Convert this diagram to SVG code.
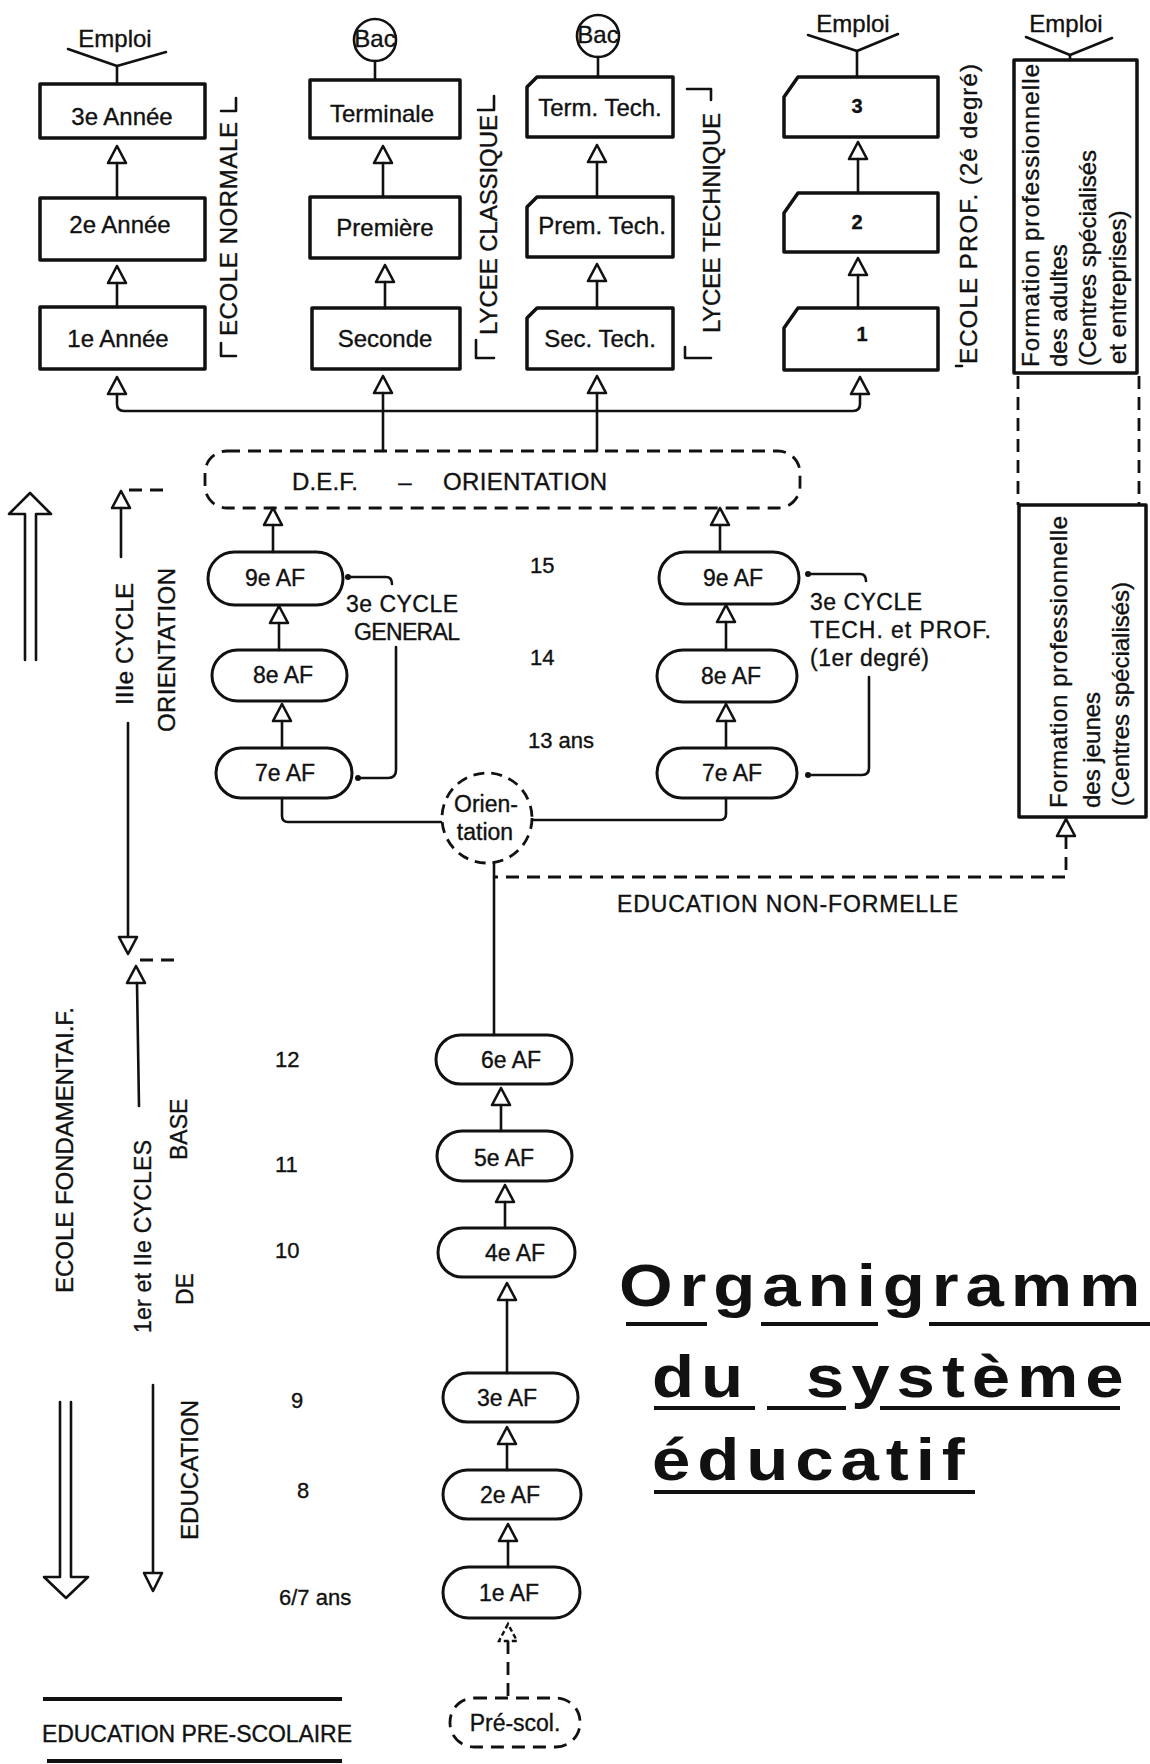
<svg xmlns="http://www.w3.org/2000/svg" xmlns:xlink="http://www.w3.org/1999/xlink" width="1150" height="1764" viewBox="0 0 1150 1764">
<style>
text{font-family:"Liberation Sans",Arial,sans-serif;fill:#111;stroke:#111;stroke-width:0.35px;}
.box{fill:none;stroke:#111;stroke-width:3.5;stroke-linejoin:round;}
.pill{fill:none;stroke:#111;stroke-width:3;}
.ln{fill:none;stroke:#111;stroke-width:2.6;stroke-linecap:round;stroke-linejoin:round;}
.dash{fill:none;stroke:#111;stroke-width:2.8;stroke-dasharray:13 8;}
.lbl{font-size:24px;text-anchor:middle;}
.af{font-size:23px;text-anchor:middle;}
.num{font-size:20px;font-weight:bold;text-anchor:middle;}
.rot{font-size:24px;}
.side{font-size:23px;}
.age{font-size:22px;}
.title{font-size:60px;font-weight:bold;stroke-width:0;letter-spacing:6px;}
.ul{stroke:#111;stroke-width:4;}
</style>
<defs>
<path id="tri" d="M0,0 L-9,17 L9,17 Z" fill="#fff" stroke="#111" stroke-width="2.6" stroke-linejoin="round"/>
<path id="trid" d="M0,0 L-9,17 L9,17 Z" fill="#fff" stroke="#111" stroke-width="2.4" stroke-dasharray="5 3"/>
</defs>
<rect width="1150" height="1764" fill="#fff"/>

<!-- ===== Top: Ecole normale ===== -->
<g id="emploi-1"><text class="lbl" x="115" y="47" font-size="23">Emploi</text></g>
<g id="annee-3"><rect class="box" x="40" y="84" width="165" height="54"/><text class="lbl" x="122" y="125">3e Année</text></g>
<g id="annee-2"><rect class="box" x="40" y="198" width="165" height="62"/><text class="lbl" x="120" y="233">2e Année</text></g>
<g id="annee-1"><rect class="box" x="40" y="307" width="165" height="62"/><text class="lbl" x="118" y="347">1e Année</text></g>
<g id="label-ecole-normale">
<text class="rot" font-size="22" transform="translate(237,336) rotate(-90)" textLength="214">ECOLE NORMALE</text>
<polyline class="ln" points="221,111 236,111 236,98"/>
<polyline class="ln" points="221,343 221,356 236,356"/>
</g>

<!-- ===== Lycée classique ===== -->
<g id="bac-1"><circle cx="375" cy="40" r="21" fill="none" stroke="#111" stroke-width="2.6"/><text class="lbl" x="375" y="47" font-size="18">Bac</text></g>
<g id="terminale"><rect class="box" x="310" y="80" width="150" height="58"/><text class="lbl" x="382" y="122">Terminale</text></g>
<g id="premiere"><rect class="box" x="310" y="197" width="150" height="61"/><text class="lbl" x="385" y="236">Première</text></g>
<g id="seconde"><rect class="box" x="312" y="308" width="148" height="61"/><text class="lbl" x="385" y="347">Seconde</text></g>
<g id="label-lycee-classique">
<text class="rot" font-size="23" transform="translate(497,335) rotate(-90)" textLength="220">LYCEE CLASSIQUE</text>
<polyline class="ln" points="478,110 494,110 494,96"/>
<polyline class="ln" points="476,340 476,358 494,358"/>
</g>

<!-- ===== Lycée technique ===== -->
<g id="bac-2"><circle cx="598" cy="36" r="21" fill="none" stroke="#111" stroke-width="2.6"/><text class="lbl" x="598" y="43" font-size="18">Bac</text></g>
<g id="term-tech"><path class="box" d="M537,77 H673 V137 H527 V87 Z"/><text class="lbl" x="600" y="116">Term. Tech.</text></g>
<g id="prem-tech"><path class="box" d="M537,197 H673 V257 H527 V207 Z"/><text class="lbl" x="602" y="234">Prem. Tech.</text></g>
<g id="sec-tech"><path class="box" d="M537,308 H673 V369 H527 V318 Z"/><text class="lbl" x="600" y="347">Sec. Tech.</text></g>
<g id="label-lycee-technique">
<text class="rot" font-size="23" transform="translate(720,333) rotate(-90)" textLength="220">LYCEE TECHNIQUE</text>
<polyline class="ln" points="687,89 711,89 711,100"/>
<polyline class="ln" points="685,347 685,358 711,358"/>
</g>

<!-- ===== Ecole prof ===== -->
<g id="emploi-2"><text class="lbl" x="853" y="32" font-size="23">Emploi</text></g>
<g id="prof-3"><path class="box" d="M798,77 H938 V137 H784 V97 Z"/><text class="num" x="857" y="113">3</text></g>
<g id="prof-2"><path class="box" d="M798,193 H938 V252 H784 V213 Z"/><text class="num" x="857" y="229">2</text></g>
<g id="prof-1"><path class="box" d="M798,308 H938 V370 H784 V328 Z"/><text class="num" x="862" y="341">1</text></g>
<g id="label-ecole-prof">
<text class="rot" font-size="24" transform="translate(977,364) rotate(-90)" textLength="300">ECOLE PROF. (2é degré)</text>
<line class="ln" x1="956" y1="366" x2="962" y2="366"/>
</g>

<!-- ===== Formation professionnelle ===== -->
<g id="emploi-3"><text class="lbl" x="1066" y="32" font-size="23">Emploi</text></g>
<g id="formation-adultes">
<rect class="box" x="1014" y="60" width="123" height="313"/>
<text class="rot" font-size="25" transform="translate(1039,367) rotate(-90)" textLength="303">Formation professionnelle</text>
<text class="rot" font-size="25" transform="translate(1067,367) rotate(-90)">des adultes</text>
<text class="rot" font-size="25" transform="translate(1096,366) rotate(-90)">(Centres spécialisés</text>
<text class="rot" font-size="25" transform="translate(1126,364) rotate(-90)">et entreprises)</text>
</g>
<g id="formation-jeunes">
<rect class="box" x="1019" y="505" width="127" height="312"/>
<text class="rot" font-size="25" transform="translate(1067,808) rotate(-90)" textLength="292">Formation professionnelle</text>
<text class="rot" font-size="25" transform="translate(1100,808) rotate(-90)">des jeunes</text>
<text class="rot" font-size="25" transform="translate(1129,806) rotate(-90)">(Centres spécialisés)</text>
</g>

<!-- ===== DEF ===== -->
<g id="def-orientation">
<rect class="dash" x="205" y="451" width="595" height="57" rx="22"/>
<text class="rot" x="292" y="490" textLength="66">D.E.F.</text>
<text class="rot" x="405" y="490" text-anchor="middle">–</text>
<text class="rot" x="443" y="490" textLength="164">ORIENTATION</text>
</g>

<!-- ===== 3e cycle général ===== -->
<g id="af-9g"><rect class="pill" x="208" y="552" width="135" height="53" rx="26.5"/><text class="af" x="275" y="586">9e AF</text></g>
<g id="af-8g"><rect class="pill" x="212" y="650" width="135" height="51" rx="25.5"/><text class="af" x="283" y="683">8e AF</text></g>
<g id="af-7g"><rect class="pill" x="216" y="748" width="136" height="50" rx="25"/><text class="af" x="285" y="781">7e AF</text></g>
<g id="label-cycle-general">
<text class="side" x="346" y="612" textLength="112">3e CYCLE</text>
<text class="side" x="354" y="640" textLength="106">GENERAL</text>
</g>

<!-- ===== 3e cycle technique ===== -->
<g id="af-9t"><rect class="pill" x="659" y="552" width="140" height="52" rx="26"/><text class="af" x="733" y="586">9e AF</text></g>
<g id="af-8t"><rect class="pill" x="657" y="650" width="140" height="52" rx="26"/><text class="af" x="731" y="684">8e AF</text></g>
<g id="af-7t"><rect class="pill" x="657" y="748" width="140" height="50" rx="25"/><text class="af" x="732" y="781">7e AF</text></g>
<g id="label-cycle-tech">
<text class="side" x="810" y="610" textLength="112">3e CYCLE</text>
<text class="side" x="810" y="638" textLength="181">TECH. et PROF.</text>
<text class="side" x="810" y="666" textLength="119">(1er degré)</text>
</g>

<!-- ===== Orientation ===== -->
<g id="orientation">
<circle cx="487" cy="818" r="45" fill="none" stroke="#111" stroke-width="2.8" stroke-dasharray="11 7"/>
<text class="af" x="486" y="812">Orien-</text>
<text class="af" x="485" y="840">tation</text>
</g>
<g id="label-non-formelle"><text class="side" x="617" y="912" textLength="341">EDUCATION NON-FORMELLE</text></g>

<!-- ===== 1er et 2e cycles ===== -->
<g id="af-6"><rect class="pill" x="436" y="1035" width="136" height="49" rx="24.5"/><text class="af" x="511" y="1068">6e AF</text></g>
<g id="af-5"><rect class="pill" x="437" y="1131" width="135" height="50" rx="25"/><text class="af" x="504" y="1166">5e AF</text></g>
<g id="af-4"><rect class="pill" x="438" y="1228" width="137" height="49" rx="24.5"/><text class="af" x="515" y="1261">4e AF</text></g>
<g id="af-3"><rect class="pill" x="443" y="1373" width="135" height="49" rx="24.5"/><text class="af" x="507" y="1406">3e AF</text></g>
<g id="af-2"><rect class="pill" x="443" y="1470" width="138" height="49" rx="24.5"/><text class="af" x="510" y="1503">2e AF</text></g>
<g id="af-1"><rect class="pill" x="443" y="1567" width="137" height="51" rx="25.5"/><text class="af" x="509" y="1601">1e AF</text></g>
<g id="pre-scol"><rect class="dash" x="450" y="1698" width="130" height="49" rx="24"/><text class="af" x="515" y="1731">Pré-scol.</text></g>

<!-- ===== Ages ===== -->
<g id="ages">
<text class="age" x="530" y="573">15</text>
<text class="age" x="530" y="665">14</text>
<text class="age" x="528" y="748">13 ans</text>
<text class="age" x="275" y="1067">12</text>
<text class="age" x="275" y="1172">11</text>
<text class="age" x="275" y="1258">10</text>
<text class="age" x="291" y="1408">9</text>
<text class="age" x="297" y="1498">8</text>
<text class="age" x="279" y="1605">6/7 ans</text>
</g>

<!-- ===== Left side labels ===== -->
<g id="label-cycle-3">
<text class="rot" transform="translate(133,705) rotate(-90)" textLength="122">IIIe CYCLE</text>
<text class="rot" transform="translate(175,732) rotate(-90)" textLength="164">ORIENTATION</text>
</g>
<g id="label-fondamentale">
<text class="rot" transform="translate(73,1293) rotate(-90)" textLength="286">ECOLE FONDAMENTAI.F.</text>
<text class="side" transform="translate(151,1333) rotate(-90)" textLength="193">1er et IIe CYCLES</text>
<text class="side" font-size="21" transform="translate(187,1160) rotate(-90)">BASE</text>
<text class="side" font-size="22" transform="translate(193,1305) rotate(-90)">DE</text>
<text class="rot" transform="translate(198,1540) rotate(-90)" textLength="140">EDUCATION</text>
</g>
<g id="label-pre-scolaire">
<line class="ul" x1="43" y1="1699" x2="342" y2="1699" stroke-width="3"/>
<text class="side" x="42" y="1742" textLength="310">EDUCATION PRE-SCOLAIRE</text>
<line class="ul" x1="47" y1="1761" x2="342" y2="1761" stroke-width="3"/>
</g>

<!-- ===== Title ===== -->
<g id="title">
<text class="title" transform="translate(619,1306) scale(1.15,1)">Organigramme</text>
<text class="title" transform="translate(652,1397) scale(1.15,1)"><tspan x="0">du</tspan><tspan x="134">système</tspan></text>
<text class="title" transform="translate(652,1480) scale(1.15,1)" letter-spacing="8">éducatif</text>
<line class="ul" x1="626" y1="1324" x2="707" y2="1324"/>
<line class="ul" x1="761" y1="1324" x2="878" y2="1324"/>
<line class="ul" x1="929" y1="1324" x2="1150" y2="1324"/>
<line class="ul" x1="654" y1="1408" x2="755" y2="1408"/>
<line class="ul" x1="767" y1="1408" x2="846" y2="1408"/>
<line class="ul" x1="880" y1="1408" x2="1120" y2="1408"/>
<line class="ul" x1="654" y1="1492" x2="975" y2="1492"/>
</g>

<!-- ===== Connectors ===== -->
<g id="connectors">
<polyline class="ln" points="68,49 117,66 166,52"/><line class="ln" x1="117" y1="66" x2="117" y2="84"/>
<polyline class="ln" points="808,35 857,51 898,34"/><line class="ln" x1="857" y1="51" x2="857" y2="77"/>
<polyline class="ln" points="1026,37 1070,55 1112,38"/><line class="ln" x1="1070" y1="55" x2="1070" y2="60"/>
<line class="ln" x1="375" y1="61" x2="375" y2="80"/>
<line class="ln" x1="598" y1="57" x2="598" y2="77"/>
<use xlink:href="#tri" x="117" y="146"/><line class="ln" x1="117" y1="163" x2="117" y2="198"/>
<use xlink:href="#tri" x="117" y="266"/><line class="ln" x1="117" y1="283" x2="117" y2="307"/>
<use xlink:href="#tri" x="117" y="377"/>
<use xlink:href="#tri" x="383" y="146"/><line class="ln" x1="383" y1="163" x2="383" y2="197"/>
<use xlink:href="#tri" x="385" y="265"/><line class="ln" x1="385" y1="282" x2="385" y2="308"/>
<use xlink:href="#tri" x="383" y="376"/><line class="ln" x1="383" y1="393" x2="383" y2="451"/>
<use xlink:href="#tri" x="597" y="145"/><line class="ln" x1="597" y1="162" x2="597" y2="197"/>
<use xlink:href="#tri" x="597" y="264"/><line class="ln" x1="597" y1="281" x2="597" y2="308"/>
<use xlink:href="#tri" x="597" y="376"/><line class="ln" x1="597" y1="393" x2="597" y2="451"/>
<use xlink:href="#tri" x="858" y="142"/><line class="ln" x1="858" y1="159" x2="858" y2="193"/>
<use xlink:href="#tri" x="858" y="258"/><line class="ln" x1="858" y1="275" x2="858" y2="308"/>
<use xlink:href="#tri" x="860" y="377"/>
<path class="ln" d="M117,394 V404 Q117,411 124,411 H853 Q860,411 860,404 V394"/>
<line class="dash" x1="1018" y1="376" x2="1018" y2="505" stroke-dasharray="14 10"/>
<line class="dash" x1="1139" y1="376" x2="1139" y2="505" stroke-dasharray="14 10"/>
<use xlink:href="#tri" x="1066" y="819"/>
<path class="dash" d="M1066,836 V877 H495" stroke-dasharray="14 9"/>
<use xlink:href="#tri" x="273" y="508"/><line class="ln" x1="273" y1="525" x2="273" y2="552"/>
<use xlink:href="#tri" x="720" y="508"/><line class="ln" x1="720" y1="525" x2="720" y2="552"/>
<use xlink:href="#tri" x="279" y="606"/><line class="ln" x1="279" y1="623" x2="279" y2="650"/>
<use xlink:href="#tri" x="282" y="704"/><line class="ln" x1="282" y1="721" x2="282" y2="748"/>
<use xlink:href="#tri" x="726" y="605"/><line class="ln" x1="726" y1="622" x2="726" y2="650"/>
<use xlink:href="#tri" x="726" y="704"/><line class="ln" x1="726" y1="721" x2="726" y2="748"/>
<path class="ln" d="M282,798 V816 Q282,822 288,822 H441"/>
<path class="ln" d="M726,798 V814 Q726,820 720,820 H533"/>
<path class="ln" d="M349,577 H386 Q392,577 392,584"/>
<path class="ln" d="M396,647 V770 Q396,778 388,778 H359"/>
<circle cx="348" cy="577" r="3" fill="#111"/><circle cx="358" cy="778" r="3" fill="#111"/>
<path class="ln" d="M809,574 H860 Q866,574 866,581"/>
<path class="ln" d="M869,677 V768 Q869,775 862,775 H810"/>
<circle cx="808" cy="574" r="3" fill="#111"/><circle cx="808" cy="775" r="3" fill="#111"/>
<line class="ln" x1="494" y1="863" x2="494" y2="1035"/>
<use xlink:href="#tri" x="501" y="1088"/><line class="ln" x1="501" y1="1105" x2="501" y2="1131"/>
<use xlink:href="#tri" x="505" y="1185"/><line class="ln" x1="505" y1="1202" x2="505" y2="1228"/>
<use xlink:href="#tri" x="507" y="1283"/><line class="ln" x1="507" y1="1300" x2="507" y2="1373"/>
<use xlink:href="#tri" x="507" y="1427"/><line class="ln" x1="507" y1="1444" x2="507" y2="1470"/>
<use xlink:href="#tri" x="508" y="1524"/><line class="ln" x1="508" y1="1541" x2="508" y2="1567"/>
<use xlink:href="#trid" x="508" y="1624"/><line class="dash" x1="508" y1="1641" x2="508" y2="1698" stroke-dasharray="9 6"/>
<path class="ln" stroke-width="3" d="M25,660 V514 H9 L30,493 L51,514 H36 V660"/>
<use xlink:href="#tri" x="121" y="491"/><line class="ln" x1="121" y1="508" x2="121" y2="557"/>
<line class="dash" x1="129" y1="490" x2="163" y2="490" stroke-dasharray="9 6"/>
<line class="ln" x1="128" y1="723" x2="128" y2="937"/>
<path d="M119,937 L137,937 L128,954 Z" fill="#fff" stroke="#111" stroke-width="2.6" stroke-linejoin="round"/>
<line class="dash" x1="140" y1="960" x2="178" y2="960" stroke-dasharray="9 6"/>
<use xlink:href="#tri" x="136" y="966"/><line class="ln" x1="137" y1="983" x2="139" y2="1106"/>
<line class="ln" x1="153" y1="1385" x2="153" y2="1573"/>
<path d="M144,1573 L162,1573 L153,1591 Z" fill="#fff" stroke="#111" stroke-width="2.6" stroke-linejoin="round"/>
<path class="ln" stroke-width="3" d="M60,1402 V1577 H44 L66,1598 L88,1577 H71 V1402"/>
</g>
</svg>
